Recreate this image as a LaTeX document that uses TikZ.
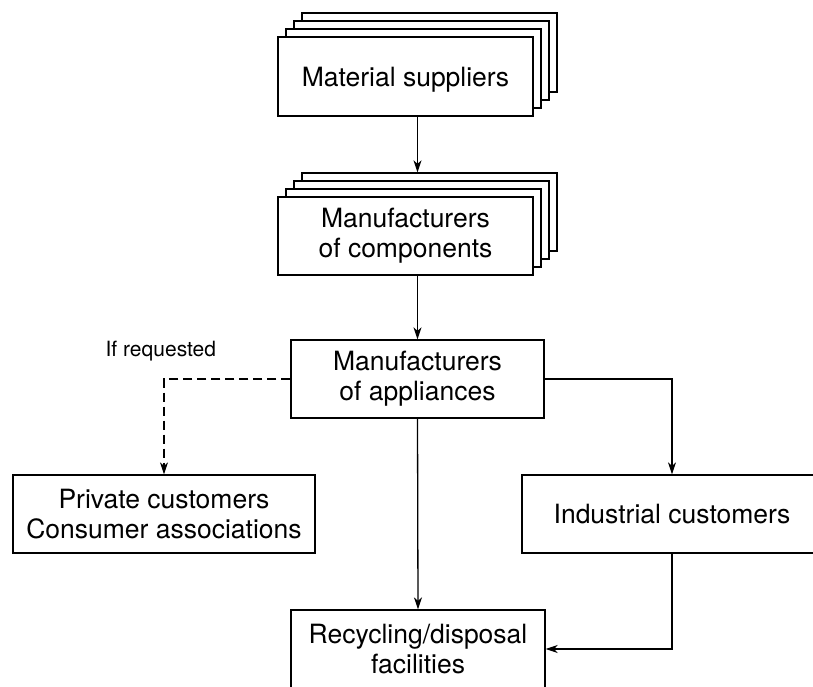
\documentclass[tikz,border=0pt]{standalone}
\usepackage{fontspec}
\setmainfont{TeX Gyre Heros}
\usetikzlibrary{positioning,arrows.meta}

\tikzset{
    box/.style={draw, fill=white, line width=1.3pt, inner sep=0pt, align=center,
        font=\fontsize{26.5}{30}\selectfont},
    arr/.style={-{Stealth[length=12pt, width=8pt, inset=3.5pt]}, line width=1.3pt},
}

\begin{document}
\begin{tikzpicture}[x=1pt, y=-1pt, line width=1.3pt]
    \useasboundingbox (0,0) rectangle (813,686);

    % stacked boxes behind the first two
    \foreach \k in {3,2,1}{
        \node[box, minimum width=255pt, minimum height=79pt] (mat\k) at (405.5+8*\k, 76.5-8*\k) {};
    }
    \node[box, minimum width=255pt, minimum height=79pt, text depth=0pt] (mat) at (405.5,76.5) {Material suppliers};

    \foreach \k in {3,2,1}{
        \node[box, minimum width=255pt, minimum height=78pt] (comp\k) at (405.5+8*\k, 236-8*\k) {};
    }
    \node[box, minimum width=255pt, minimum height=78pt] (comp) at (405.5,236) {Manufacturers\\of components};

    \node[box, minimum width=253pt, minimum height=78pt] (app) at (417.5,379) {Manufacturers\\of appliances};
    \node[box, minimum width=302pt, minimum height=78pt] (priv) at (164,514) {Private customers\\Consumer associations};
    \node[box, minimum width=300pt, minimum height=78pt, text depth=0pt] (ind) at (672,514) {Industrial customers};
    \node[box, minimum width=254pt, minimum height=78pt] (rec) at (418,649) {Recycling/disposal\\facilities};

    \node[anchor=base west, inner sep=0pt, font=\fontsize{21}{24}\selectfont] (req) at (105,356) {If requested};

    \draw[arr] (mat.south -| app) -- (comp3.north -| app);
    \draw[arr] (comp.south -| app) -- (app.north);
    \draw[arr, dash pattern=on 9pt off 5pt] (app.west) -| (priv.north);
    \draw[arr] (app.east) -| (ind.north);
    \draw[arr] (app.south) -- (rec.north);
    \draw[arr] (ind.south) |- (rec.east);

\end{tikzpicture}
\end{document}
